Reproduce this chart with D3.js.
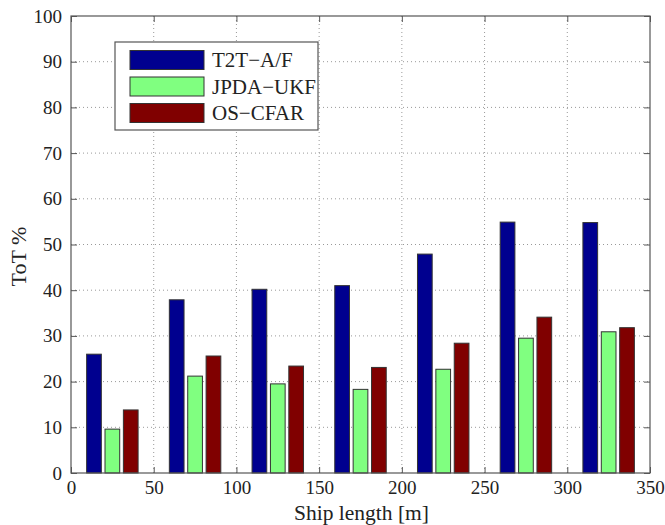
<!DOCTYPE html>
<html lang="en">
<head>
    <meta charset="UTF-8">
    <title>ToT by ship length</title>
    <script src="https://d3js.org/d3.v7.min.js"></script>
    <style>
        body { margin: 0; background: #fff; }
        text { font-family: "Liberation Serif", "DejaVu Serif", serif; fill: #222; }
    </style>
</head>
<body>
    <script>
        // ship length groups (bar group centres, m)
        var lengths = [25, 75, 125, 175, 225, 275, 325];
        var seriesNames = ["T2T\u2212A/F", "JPDA\u2212UKF", "OS\u2212CFAR"];
        var t2t = [26, 37.9, 40.2, 41, 47.9, 54.9, 54.8];
        var jpda = [9.6, 21.2, 19.5, 18.3, 22.7, 29.5, 30.9];
        var oscfar = [13.8, 25.6, 23.4, 23.1, 28.4, 34.1, 31.8];
        var colors = ["#00008f", "#80ff80", "#800000"];
        var xTicks = [0, 50, 100, 150, 200, 250, 300, 350];
        var yTicks = [0, 10, 20, 30, 40, 50, 60, 70, 80, 90, 100];

        var series = [t2t, jpda, oscfar];
        var w = 665, h = 525;
        var margin = { top: 16, right: 15, bottom: 52, left: 71 };
        var iw = w - margin.left - margin.right;
        var ih = h - margin.top - margin.bottom;
        var serif = "Liberation Serif, DejaVu Serif, serif";

        var svg = d3.select("body").append("svg")
            .attr("width", w)
            .attr("height", h);
        var g = svg.append("g")
            .attr("transform", "translate(" + margin.left + "," + margin.top + ")");

        var x = d3.scaleLinear().domain([0, 350]).range([0, iw]);
        var y = d3.scaleLinear().domain([0, 100]).range([ih, 0]);

        // grid
        g.append("g").selectAll("line").data(xTicks.slice(1, -1)).enter().append("line")
            .attr("x1", d => x(d)).attr("x2", d => x(d))
            .attr("y1", 0).attr("y2", ih)
            .attr("stroke", "#999").attr("stroke-dasharray", "1,3");
        g.append("g").selectAll("line").data(yTicks.slice(1, -1)).enter().append("line")
            .attr("x1", 0).attr("x2", iw)
            .attr("y1", d => y(d)).attr("y2", d => y(d))
            .attr("stroke", "#999").attr("stroke-dasharray", "1,3");

        // bars (matlab grouped layout)
        var groupWidth = 50 * 3 / 4.5;
        var step = groupWidth / 3;
        var barW = step * 0.8;
        series.forEach(function(vals, si) {
            var off = (si - 1) * step;
            g.append("g").selectAll("rect").data(vals).enter().append("rect")
                .attr("x", (d, i) => x(lengths[i] + off - barW / 2))
                .attr("width", x(barW) - x(0))
                .attr("y", d => y(d))
                .attr("height", d => y(0) - y(d))
                .attr("fill", colors[si])
                .attr("stroke", "#333")
                .attr("stroke-width", 1);
        });

        // axes with inward ticks, box
        var axColor = "#555";
        g.append("rect").attr("width", iw).attr("height", ih)
            .attr("fill", "none").attr("stroke", axColor).attr("stroke-width", 1.2);

        var xAxis = g.append("g").attr("transform", "translate(0," + ih + ")")
            .call(d3.axisBottom(x).tickValues(xTicks).tickSize(-6).tickPadding(8));
        var xTop = g.append("g")
            .call(d3.axisTop(x).tickValues(xTicks).tickSize(-6).tickFormat(""));
        var yAxis = g.append("g")
            .call(d3.axisLeft(y).tickValues(yTicks).tickSize(-6).tickPadding(9));
        var yRight = g.append("g").attr("transform", "translate(" + iw + ",0)")
            .call(d3.axisRight(y).tickValues(yTicks).tickSize(-6).tickFormat(""));
        [xAxis, xTop, yAxis, yRight].forEach(function(a) {
            a.attr("font-family", serif).attr("font-size", 19);
            a.select(".domain").remove();
            a.selectAll("line").attr("stroke", axColor);
            a.selectAll("text").attr("fill", "#222").style("font-family", serif);
        });

        // axis labels
        svg.append("text")
            .attr("x", margin.left + iw / 2 + 1).attr("y", 520)
            .attr("text-anchor", "middle").attr("font-size", 21.5)
            .text("Ship length [m]");
        svg.append("text")
            .attr("transform", "translate(26," + (margin.top + ih / 2 + 12) + ") rotate(-90)")
            .attr("text-anchor", "middle").attr("font-size", 22)
            .text("ToT %");

        // legend
        var lg = svg.append("g").attr("transform", "translate(115,42)");
        lg.append("rect").attr("width", 203).attr("height", 88)
            .attr("fill", "#fff").attr("stroke", axColor).attr("stroke-width", 1.2);
        seriesNames.forEach(function(name, i) {
            var cy = 18 + i * 26.5;
            lg.append("rect").attr("x", 15).attr("y", cy - 9.5)
                .attr("width", 74).attr("height", 19)
                .attr("fill", colors[i]).attr("stroke", "#333");
            lg.append("text").attr("x", 97).attr("y", cy + 7)
                .attr("font-size", 21).text(name);
        });
    </script>
</body>
</html>
